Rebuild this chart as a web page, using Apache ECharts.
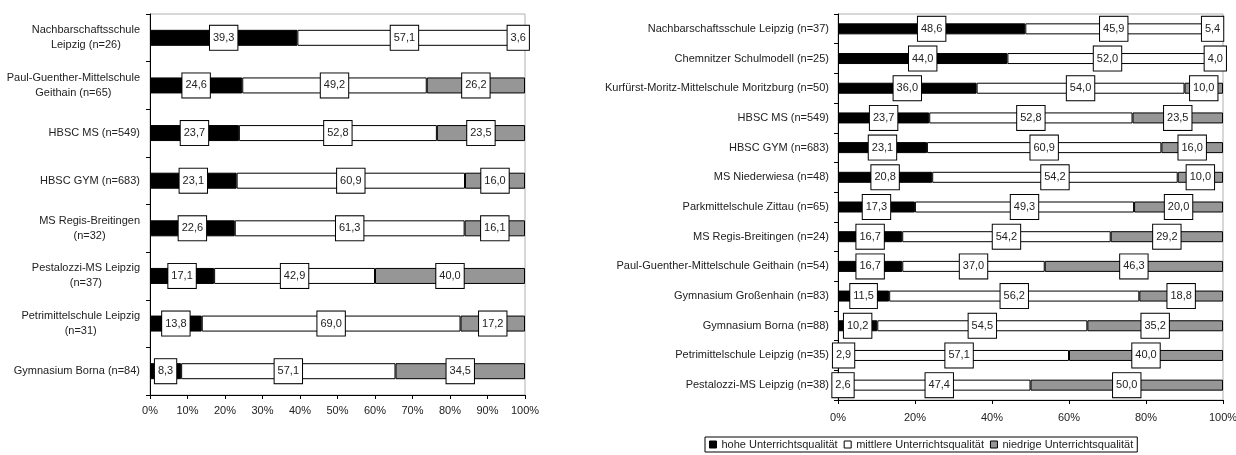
<!DOCTYPE html>
<html>
<head>
<meta charset="utf-8">
<title>Unterrichtsqualität</title>
<script src="https://cdn.jsdelivr.net/npm/echarts@6/dist/echarts.min.js"></script>
<style>
  html, body { margin: 0; padding: 0; background: #fff; }
  #chart { width: 1236px; height: 455px; }
</style>
</head>
<body>
<div id="chart"></div>
<script>
// Left panel: schools of the first survey wave
const leftCategories = [
  'Nachbarschaftsschule\nLeipzig (n=26)',
  'Paul-Guenther-Mittelschule\nGeithain (n=65)',
  'HBSC MS (n=549)',
  'HBSC GYM (n=683)',
  'MS Regis-Breitingen\n(n=32)',
  'Pestalozzi-MS Leipzig\n(n=37)',
  'Petrimittelschule Leipzig\n(n=31)',
  'Gymnasium Borna (n=84)'
];
const leftHigh = [39.3, 24.6, 23.7, 23.1, 22.6, 17.1, 13.8, 8.3];
const leftMid  = [57.1, 49.2, 52.8, 60.9, 61.3, 42.9, 69.0, 57.1];
const leftLow  = [3.6, 26.2, 23.5, 16.0, 16.1, 40.0, 17.2, 34.5];

// Right panel: schools of the second survey wave
const rightCategories = [
  'Nachbarschaftsschule Leipzig (n=37)',
  'Chemnitzer Schulmodell (n=25)',
  'Kurfürst-Moritz-Mittelschule Moritzburg (n=50)',
  'HBSC MS (n=549)',
  'HBSC GYM (n=683)',
  'MS Niederwiesa (n=48)',
  'Parkmittelschule Zittau (n=65)',
  'MS Regis-Breitingen (n=24)',
  'Paul-Guenther-Mittelschule Geithain (n=54)',
  'Gymnasium Großenhain (n=83)',
  'Gymnasium Borna (n=88)',
  'Petrimittelschule Leipzig (n=35)',
  'Pestalozzi-MS Leipzig (n=38)'
];
const rightHigh = [48.6, 44.0, 36.0, 23.7, 23.1, 20.8, 17.3, 16.7, 16.7, 11.5, 10.2, 2.9, 2.6];
const rightMid  = [45.9, 52.0, 54.0, 52.8, 60.9, 54.2, 49.3, 54.2, 37.0, 56.2, 54.5, 57.1, 47.4];
const rightLow  = [5.4, 4.0, 10.0, 23.5, 16.0, 10.0, 20.0, 29.2, 46.3, 18.8, 35.2, 40.0, 50.0];

const seriesNames = ['hohe Unterrichtsqualität', 'mittlere Unterrichtsqualität', 'niedrige Unterrichtsqualität'];
const seriesColors = ['#000000', '#ffffff', '#969696'];
const leftTickStep = 10;
const rightTickStep = 20;

const FONT = "'Liberation Sans', Arial, sans-serif";
const TEXT = '#222';
const FS = 11;

// 100 % stacked bars: each segment is its share of the row total,
// the label shows the reported percentage.
function stackedSeries(groups, axisIndex) {
  const n = groups[0].length;
  const totals = [];
  for (let k = 0; k < n; k++) {
    totals.push(groups.reduce((s, g) => s + g[k], 0));
  }
  return groups.map((g, i) => ({
    name: seriesNames[i],
    type: 'bar',
    stack: 'total' + axisIndex,
    xAxisIndex: axisIndex,
    yAxisIndex: axisIndex,
    barWidth: axisIndex === 0 ? 16 : 11,
    itemStyle: { color: seriesColors[i], borderColor: '#000', borderWidth: 1 },
    emphasis: { disabled: true },
    label: {
      show: true,
      position: 'inside',
      fontFamily: FONT,
      fontSize: FS,
      color: TEXT,
      backgroundColor: '#fff',
      borderColor: '#000',
      borderWidth: 1,
      padding: [5, 3, 5, 3],
      lineHeight: 14,
      formatter: p => p.data.raw.toFixed(1).replace('.', ',')
    },
    data: g.map((v, k) => ({ value: v / totals[k] * 100, raw: v }))
  }));
}

function valueAxis(gridIndex, step, margin) {
  return {
    type: 'value',
    gridIndex: gridIndex,
    min: 0,
    max: 100,
    interval: step,
    axisLine: { show: true, lineStyle: { color: '#000', width: 1 } },
    axisTick: { show: true, length: 4, lineStyle: { color: '#000' } },
    splitLine: { show: false },
    axisLabel: {
      formatter: '{value}%',
      fontFamily: FONT,
      fontSize: FS,
      color: TEXT,
      margin: margin
    }
  };
}

// Category labels: block sits right of the axis, wrapped lines are centred within it
function categoryAxis(gridIndex, cats, margin) {
  return {
    type: 'category',
    gridIndex: gridIndex,
    inverse: true,
    data: cats,
    axisLine: { show: true, lineStyle: { color: '#000', width: 1 } },
    axisTick: { show: true, length: 4, lineStyle: { color: '#000' } },
    axisLabel: {
      fontFamily: FONT,
      fontSize: FS,
      lineHeight: 15,
      color: TEXT,
      align: 'right',
      margin: margin,
      formatter: v => v.split('\n').map(s => '{c|' + s + '}').join('\n'),
      rich: {
        c: { align: 'center', fontFamily: FONT, fontSize: FS, lineHeight: 15, color: TEXT }
      }
    }
  };
}

const chart = echarts.init(document.getElementById('chart'), null, { renderer: 'canvas' });
chart.setOption({
  animation: false,
  backgroundColor: '#fff',
  grid: [
    { left: 150, right: 711, top: 14, bottom: 60, containLabel: false, outerBoundsMode: 'none',
      show: true, borderColor: '#b0b0b0', borderWidth: 1, backgroundColor: 'transparent' },
    { left: 838, right: 13, top: 14, bottom: 55, containLabel: false, outerBoundsMode: 'none',
      show: true, borderColor: '#b0b0b0', borderWidth: 1, backgroundColor: 'transparent' }
  ],
  xAxis: [valueAxis(0, leftTickStep, 10), valueAxis(1, rightTickStep, 12)],
  yAxis: [categoryAxis(0, leftCategories, 10), categoryAxis(1, rightCategories, 9)],
  legend: {
    left: 705,
    top: 437,
    orient: 'horizontal',
    data: seriesNames,
    icon: 'rect',
    itemWidth: 7,
    itemHeight: 7,
    itemGap: 6,
    padding: [2, 4, 2, 4],
    borderColor: '#000',
    borderWidth: 1,
    selectedMode: false,
    textStyle: { fontFamily: FONT, fontSize: FS, color: TEXT },
    itemStyle: { borderColor: '#000', borderWidth: 1 }
  },
  series: [
    ...stackedSeries([leftHigh, leftMid, leftLow], 0),
    ...stackedSeries([rightHigh, rightMid, rightLow], 1)
  ]
});
</script>
</body>
</html>
